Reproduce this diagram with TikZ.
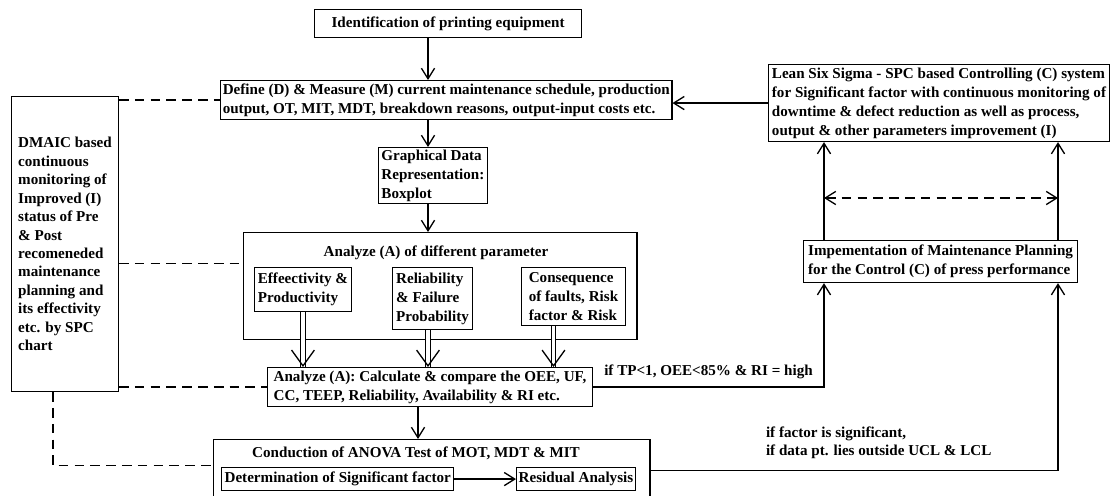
\documentclass[tikz,border=0pt]{standalone}
\usepackage{fontspec}
\setmainfont{Liberation Serif}
\usetikzlibrary{arrows.meta}

\begin{document}
\begin{tikzpicture}[x=0.02cm,y=-0.02cm,
  >={Straight Barb[length=6pt,width=7.5pt]},
  every node/.style={font=\fontsize{8.6}{10.8}\selectfont\bfseries},
  blk/.style={draw,line width=0.75pt,anchor=north west,align=left,inner sep=0pt},
  line/.style={line width=0.75pt},
  link/.style={line width=0.75pt,dash pattern=on 5.5pt off 3.5pt},
  dbl/.style={double,double distance=2pt,line width=0.6pt},
  bigtip/.style={line width=0.75pt,{Straight Barb[length=9pt,width=13pt]}-}]
\useasboundingbox (0,0) rectangle (1113,496);

% boxes
\node[blk,align=center,minimum width=151.9pt,minimum height=15.9pt] (ident) at (314,9) {Identification of printing equipment};
\node[blk,minimum width=256.8pt,minimum height=22.1pt] (define) at (220,80) {Define (D) \& Measure (M) current maintenance schedule, production\\output, OT, MIT, MDT, breakdown reasons, output-input costs etc.};
\node[blk,minimum width=61.8pt,minimum height=31.7pt] (graph) at (378,147) {Graphical Data\\Representation:\\Boxplot};
\node[blk,minimum width=223.9pt,minimum height=60.7pt] (analyze) at (243,232) {};
\node (antitle) at (436,253) {Analyze (A) of different parameter};
\node[blk,minimum width=55pt,minimum height=24.9pt] (eff) at (254,267) {Effeectivity \&\\Productivity};
\node[blk,minimum width=45.4pt,minimum height=35.1pt] (rel) at (392,267) {Reliability\\\& Failure\\Probability};
\node[blk,minimum width=59pt,minimum height=32.9pt] (cons) at (521,267) {Consequence\\of faults, Risk\\factor \& Risk};
\node[blk,minimum width=184.8pt,minimum height=22.1pt] (an2) at (267,367) {Analyze (A): Calculate \& compare the OEE, UF,\\CC, TEEP, Reliability, Availability \& RI etc.};
\node[blk,minimum width=248.3pt,minimum height=35.1pt] (anova) at (213,439) {};
\node (anovatitle) at (416,453) {Conduction of ANOVA Test of MOT, MDT \& MIT};
\node[blk,align=center,minimum width=132.1pt,minimum height=13pt] (det) at (221,467) {Determination of Significant factor};
\node[blk,align=center,minimum width=67.5pt,minimum height=13pt] (res) at (516,467) {Residual Analysis};
\node[blk,minimum width=60.7pt,minimum height=167.8pt,font=\fontsize{8.6}{10.5}\selectfont\bfseries] (dmaic) at (11,96) {DMAIC based\\continuous\\monitoring of\\Improved (I)\\status of Pre\\\& Post\\recomeneded\\maintenance\\planning and\\its effectivity\\etc. by SPC\\chart};
\node[blk,minimum width=193.9pt,minimum height=43.7pt] (lean) at (768,64) {Lean Six Sigma - SPC based Controlling (C) system\\for Significant factor with continuous monitoring of\\downtime \& defect reduction as well as process,\\output \& other parameters improvement (I)};
\node[blk,minimum width=155.9pt,minimum height=23.8pt] (impl) at (803,240) {Impementation of Maintenance Planning\\for the Control (C) of press performance};

\coordinate (spine) at (428,0);
\coordinate (lowspine) at (418,0);
\coordinate (ltrack) at (824,0);
\coordinate (rtrack) at (1058,0);
\coordinate (dtrack) at (53,0);
\coordinate (gap) at (941,198);

% main chain
\draw[line,->] (ident.south -| spine) -- (define.north -| spine);
\draw[line,->] (define.south -| spine) -- (graph.north -| spine);
\draw[line,->] (graph.south -| spine) -- (analyze.north -| spine);
\draw[line,->] (an2.south -| lowspine) -- (anova.north -| lowspine);
\draw[line,->] (det) -- (res);

% double arrows into second analysis
\draw[dbl] (eff.south) -- (eff.south |- an2.north);
\draw[bigtip] (eff.south |- an2.north) -- ++(0,-1);
\draw[dbl] (rel.south -| spine) -- (an2.north -| spine);
\draw[bigtip] (an2.north -| spine) -- ++(0,-1);
\draw[dbl] ([xshift=-0.4cm]cons.south) -- ([xshift=-0.4cm]cons.south |- an2.north);
\draw[bigtip] ([xshift=-0.4cm]cons.south |- an2.north) -- ++(0,-1);

% control loop
\draw[line,->] (an2.east) -| (impl.south -| ltrack) node[pos=0.25,above=1pt] (cond1) {if TP<1, OEE<85\% \& RI = high};
\draw[line,->] (anova.east) -| (impl.south -| rtrack) node[pos=0.28,above=3pt,align=left,font=\fontsize{8.6}{10.2}\selectfont\bfseries] (cond2) {if factor is significant,\\if data pt. lies outside UCL \& LCL};
\draw[line,->] (impl.north -| ltrack) -- (lean.south -| ltrack);
\draw[line,->] (impl.north -| rtrack) -- (lean.south -| rtrack);
\draw[link,<->] (gap -| ltrack) -- (gap -| rtrack);
\draw[line,->] (lean.west) -- (lean.west -| define.east);

% dmaic monitoring links
\draw[link] (dmaic.east |- define.west) -- (define.west);
\draw[link] ([yshift=0.45cm]analyze.west -| dmaic.east) -- ([yshift=0.45cm]analyze.west);
\draw[link] (dmaic.east |- an2.west) -- (an2.west);
\draw[link] (dmaic.south -| dtrack) |- ([yshift=0.1cm]anova.west);
\end{tikzpicture}
\end{document}
